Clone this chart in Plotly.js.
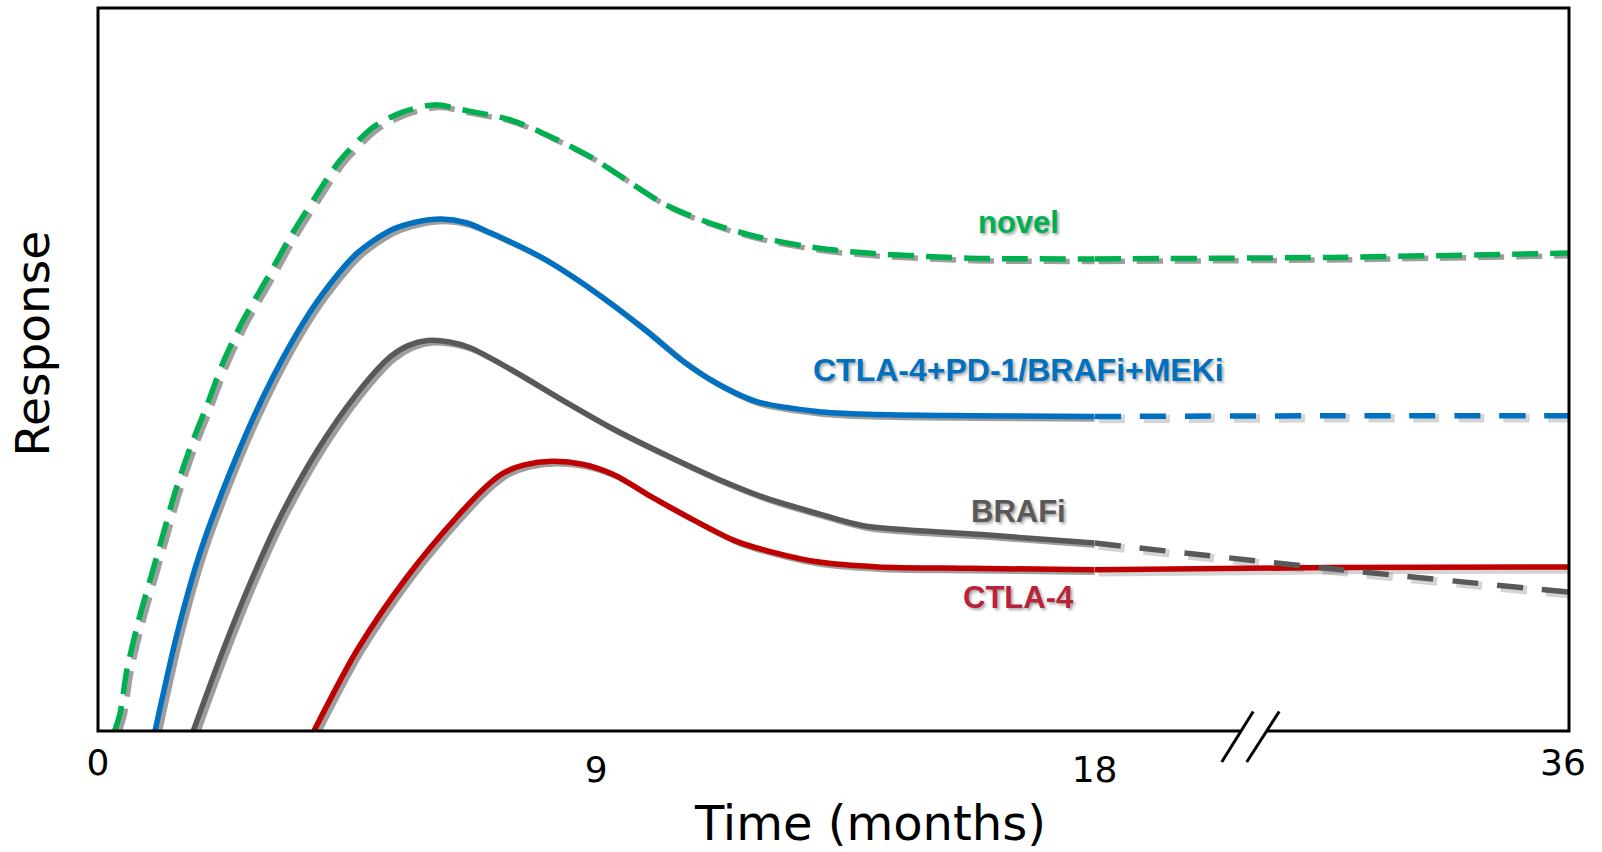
<!DOCTYPE html>
<html>
<head>
<meta charset="utf-8">
<script src="https://cdn.plot.ly/plotly-3.0.1.min.js"></script>
<style>html,body{margin:0;padding:0;background:#fff;}#chart{width:1602px;height:852px;}</style>
</head>
<body>
<div id="chart"></div>
<script>
// ---- data (months, response in arbitrary units 0..100) ----
const novelMonthsA = [0.30, 0.40, 0.52, 0.72, 0.94, 1.16, 1.39, 1.66, 1.97, 2.26, 2.62, 3.07, 3.47, 3.92, 4.37, 4.97, 5.5, 6.08, 6.66, 7.46, 8.2, 8.94, 9.58, 10.22, 10.96, 11.88, 12.99, 13.91, 15.75, 18];
const novelValuesA = [0, 2.5, 8.4, 14.9, 20.9, 26.8, 33.0, 39.1, 45.1, 51.0, 56.8, 62.8, 68.3, 73.8, 78.9, 83.5, 85.6, 86.6, 85.8, 84.5, 82.1, 79.2, 76.0, 72.9, 70.5, 68.4, 66.8, 66.1, 65.4, 65.3];
const novelMonthsB = [18, 26.8, 36];
const novelValuesB = [65.3, 65.5, 66.1];

const comboMonthsA = [1.03, 1.43, 1.84, 2.38, 2.98, 3.59, 4.06, 4.68, 5.27, 5.75, 6.2, 6.65, 7.09, 8.01, 8.94, 9.86, 10.59, 11.15, 11.88, 12.99, 13.91, 15.75, 18];
const comboValuesA = [0, 13.5, 24.6, 35.7, 46.2, 55.0, 60.5, 66.1, 69.2, 70.4, 70.8, 70.3, 68.9, 65.5, 60.9, 55.6, 51.0, 48.2, 45.6, 44.2, 43.8, 43.6, 43.5];
const comboMonthsB = [18, 26.8, 36];
const comboValuesB = [43.5, 43.6, 43.6];

const brafMonthsA = [1.72, 2.26, 2.75, 3.29, 3.96, 4.68, 5.27, 5.6, 5.95, 6.35, 6.72, 7.46, 8.38, 9.30, 10.22, 11.15, 12.07, 12.99, 13.82, 15.9, 18];
const brafValuesA = [0, 11.2, 20.5, 29.6, 38.8, 46.7, 51.7, 53.3, 54.0, 53.8, 53.0, 50.0, 45.8, 41.8, 38.3, 35.0, 32.2, 30.1, 28.4, 27.2, 26.0];
const brafMonthsB = [18, 26.8, 36];
const brafValuesB = [26.0, 22.5, 19.2];

const ctlaMonthsA = [3.9, 4.68, 5.58, 6.48, 7.08, 7.35, 7.7, 8.2, 8.75, 9.30, 10.04, 10.78, 11.51, 12.25, 12.99, 14.09, 15.75, 18];
const ctlaValuesA = [0, 11.2, 21.3, 29.6, 34.3, 35.8, 36.8, 37.3, 36.9, 35.5, 32.2, 29.1, 26.3, 24.6, 23.4, 22.7, 22.5, 22.3];
const ctlaMonthsB = [18, 26.8, 36];
const ctlaValuesB = [22.3, 22.6, 22.7];

const seriesNames = ['novel', 'CTLA-4+PD-1/BRAFi+MEKi', 'BRAFi', 'CTLA-4'];
const labelValues = [70.4, 49.9, 30.4, 18.4];
const labelMonth = 16.63;
const tickValsA = [9, 18];
const tickValsB = [36];
const tickValsZero = [0];

// ---- styles ----
const GREEN = '#00b050', BLUE = '#0070c0', GRAY = '#595959', RED = '#c00000';
const SHADOW = '#9e9e9e', SOFT = 'rgba(0,0,0,0.17)';
const W = 5.5;

function tr(x, y, xa, ya, color, width, dash, name) {
  return {x: x, y: y, xaxis: xa, yaxis: ya, type: 'scatter', mode: 'lines', name: name,
    line: {color: color, width: width, dash: dash || 'solid', shape: 'spline', smoothing: 0.8},
    hoverinfo: 'skip', showlegend: false};
}
const gDash = '26px,12px';
const bDash = '26px,19px';

const traces = [
  // shadows (offset axes x3/x4/y2)
  tr(novelMonthsA, novelValuesA, 'x3', 'y2', SHADOW, W, gDash, 'novel shadow'),
  tr(novelMonthsB, novelValuesB, 'x4', 'y2', SHADOW, W, gDash, 'novel shadow'),
  tr(comboMonthsA, comboValuesA, 'x3', 'y2', SHADOW, W, 'solid', 'combo shadow'),
  tr(comboMonthsB, comboValuesB, 'x4', 'y2', SOFT, W + 3, bDash, 'combo shadow'),
  tr(ctlaMonthsA, ctlaValuesA, 'x3', 'y2', SHADOW, W, 'solid', 'ctla shadow'),
  tr(ctlaMonthsB, ctlaValuesB, 'x4', 'y2', SOFT, W + 3, 'solid', 'ctla shadow'),
  tr(brafMonthsA, brafValuesA, 'x3', 'y2', SHADOW, W, 'solid', 'braf shadow'),
  tr(brafMonthsB, brafValuesB, 'x4', 'y2', SOFT, W + 3, bDash, 'braf shadow'),
  // main lines (axes x5/x6/y3, drawn above the shadows)
  tr(novelMonthsA, novelValuesA, 'x5', 'y3', GREEN, W, gDash, seriesNames[0]),
  tr(novelMonthsB, novelValuesB, 'x6', 'y3', GREEN, W, gDash, seriesNames[0]),
  tr(comboMonthsA, comboValuesA, 'x5', 'y3', BLUE, W, 'solid', seriesNames[1]),
  tr(comboMonthsB, comboValuesB, 'x6', 'y3', BLUE, W, bDash, seriesNames[1]),
  tr(ctlaMonthsA, ctlaValuesA, 'x5', 'y3', RED, W, 'solid', seriesNames[3]),
  tr(ctlaMonthsB, ctlaValuesB, 'x6', 'y3', RED, W, 'solid', seriesNames[3]),
  tr(brafMonthsA, brafValuesA, 'x5', 'y3', GRAY, W, 'solid', seriesNames[2]),
  tr(brafMonthsB, brafValuesB, 'x6', 'y3', GRAY, W, bDash, seriesNames[2]),
  // carriers for base axes
  {x: [], y: [], xaxis: 'x', yaxis: 'y', type: 'scatter', mode: 'lines', showlegend: false, hoverinfo: 'skip'},
  {x: [], y: [], xaxis: 'x2', yaxis: 'y', type: 'scatter', mode: 'lines', showlegend: false, hoverinfo: 'skip'}
];

const axFont = {family: 'DejaVu Sans, Verdana, sans-serif', size: 36, color: '#000'};
const baseX = {showgrid: false, zeroline: false, showline: false, ticks: '', fixedrange: true, tickfont: axFont};
const pxA = 1471 * 0.6775 / 18;   // px per month, first segment
const pxB = 1471 * 0.3225 / 18;   // px per month, second segment
const sx = 4, sy = 2.5;           // shadow offset in px
const pyU = 100 / 723.5;

const labelFont = (c) => ({family: 'Liberation Sans, Arial, sans-serif', size: 31, color: c, weight: 'bold',
  shadow: '2px 2px 3px rgba(0,0,0,0.35)'});
const labelColors = [GREEN, BLUE, GRAY, '#b8233a'];
const labelSizes = [31, 32, 31, 31];

const annotations = seriesNames.map((n, i) => ({
  text: n, xref: 'x', yref: 'y', x: labelMonth, y: labelValues[i],
  xanchor: 'center', yanchor: 'middle', showarrow: false,
  font: Object.assign(labelFont(labelColors[i]), {size: labelSizes[i]})
}));
annotations.push({text: 'Response', xref: 'paper', yref: 'paper', x: 0, y: 0.536, xshift: -66,
  xanchor: 'center', yanchor: 'middle', textangle: -90, showarrow: false,
  font: {family: 'DejaVu Sans, Verdana, sans-serif', size: 47, color: '#000'}});
annotations.push({text: 'Time (months)', xref: 'paper', yref: 'paper', x: 0.525, y: 0, yshift: -92,
  xanchor: 'center', yanchor: 'middle', showarrow: false,
  font: {family: 'DejaVu Sans, Verdana, sans-serif', size: 48, color: '#000'}});

const brk = (x0, y0, x1, y1, color, width) => ({type: 'line', xref: 'x2', yref: 'paper',
  xsizemode: 'pixel', ysizemode: 'pixel', xanchor: 24, yanchor: 0,
  x0: x0, y0: y0, x1: x1, y1: y1, line: {color: color, width: width}, layer: 'above'});

const hidden = {visible: false, fixedrange: true};
const layout = {
  width: 1602, height: 852,
  margin: {l: 98, r: 33, t: 8, b: 121, pad: 0},
  paper_bgcolor: '#fff', plot_bgcolor: '#fff',
  showlegend: false,
  xaxis: Object.assign({}, baseX, {anchor: 'y', domain: [0, 0.6775], range: [0, 18], tickvals: tickValsA,
    ticktext: tickValsA.map(String), ticklabelstandoff: 14}),
  xaxis2: Object.assign({}, baseX, {anchor: 'y', domain: [0.6775, 1], range: [18, 36], tickvals: tickValsB,
    ticktext: tickValsB.map(String), ticklabelstandoff: 7, ticklabelshift: -6}),
  xaxis3: Object.assign({overlaying: 'x', range: [-sx / pxA, 18 - sx / pxA]}, hidden),
  xaxis4: Object.assign({overlaying: 'x2', range: [18 - sx / pxB, 36 - sx / pxB]}, hidden),
  xaxis5: Object.assign({}, baseX, {overlaying: 'x', anchor: 'y3', range: [0, 18], tickvals: tickValsZero,
    ticktext: tickValsZero.map(String), ticklabelstandoff: 7}),
  xaxis6: Object.assign({overlaying: 'x2', range: [18, 36]}, hidden),
  yaxis: {range: [0, 100], showgrid: false, zeroline: false, showline: false, ticks: '',
    showticklabels: false, fixedrange: true},
  yaxis2: Object.assign({overlaying: 'y', range: [sy * pyU, 100 + sy * pyU]}, hidden),
  yaxis3: Object.assign({overlaying: 'y', range: [0, 100]}, hidden),
  annotations: annotations,
  shapes: [
    {type: 'rect', xref: 'paper', yref: 'paper', x0: 0, x1: 1, y0: 0, y1: 1,
      line: {color: '#000', width: 3}, layer: 'above'},
    brk(-12, 0, 14, 0, '#fff', 6),
    brk(-31, -31, 0.5, 19.5, '#000', 3),
    brk(-6, -31, 26.5, 19.5, '#000', 3)
  ]
};

Plotly.newPlot('chart', traces, layout, {displayModeBar: false, staticPlot: true});
</script>
</body>
</html>
